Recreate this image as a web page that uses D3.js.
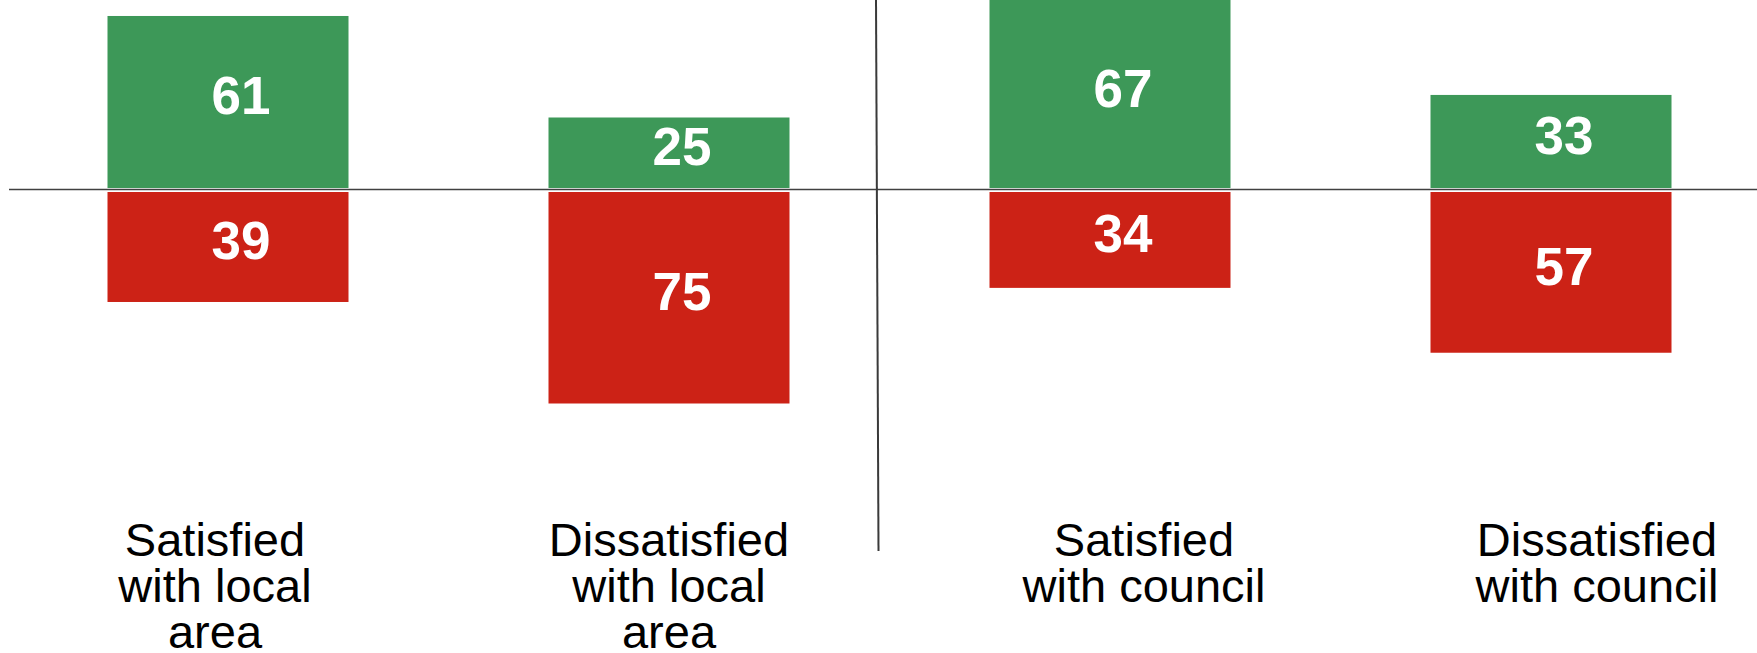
<!DOCTYPE html>
<html>
<head>
<meta charset="utf-8">
<script src="https://cdn.jsdelivr.net/npm/d3@7"></script>
<style>
  html, body { margin: 0; padding: 0; background: #ffffff; }
  svg { display: block; }
</style>
</head>
<body>
<div id="chart"></div>
<script>
// ---- data ----
const categories = [
  "Satisfied with local area",
  "Dissatisfied with local area",
  "Satisfied with council",
  "Dissatisfied with council"
];
const tickLines = [
  ["Satisfied", "with local", "area"],
  ["Dissatisfied", "with local", "area"],
  ["Satisfied", "with council"],
  ["Dissatisfied", "with council"]
];
const satisfiedValues = [61, 25, 67, 33];   // green, above the line
const dissatisfiedValues = [39, 75, 34, 57]; // red, below the line

// ---- layout / style ----
const W = 1757, H = 653;
const green = "#3d9858", red = "#cc2216";
const labelDx = [-13, 0, 34, 46];

const svg = d3.select("#chart").append("svg")
  .attr("width", W).attr("height", H);

const x = d3.scaleBand()
  .domain(categories)
  .range([7.5, 7.5 + 4 * 441])
  .paddingInner(200 / 441)
  .paddingOuter(100 / 441);

const yUp = d3.scaleLinear().domain([0, 100]).range([188, 188 - 282]);
const yDown = d3.scaleLinear().domain([0, 100]).range([192, 192 + 282]);

const rows = categories.map((c, i) => ({
  cat: c, i, up: satisfiedValues[i], down: dissatisfiedValues[i]
}));

// green bars
svg.append("g").selectAll("rect").data(rows).join("rect")
  .attr("x", d => x(d.cat))
  .attr("width", x.bandwidth())
  .attr("y", d => yUp(d.up))
  .attr("height", d => yUp(0) - yUp(d.up))
  .attr("fill", green);

// red bars
svg.append("g").selectAll("rect").data(rows).join("rect")
  .attr("x", d => x(d.cat))
  .attr("width", x.bandwidth())
  .attr("y", yDown(0))
  .attr("height", d => yDown(d.down) - yDown(0))
  .attr("fill", red);

// value labels
const valFont = "'Liberation Sans', Arial, sans-serif";
svg.append("g").selectAll("text").data(rows).join("text")
  .attr("x", d => x(d.cat) + x.bandwidth() / 2 + 13)
  .attr("y", d => (Math.max(0, yUp(d.up)) + yUp(0)) / 2 + 12.5)
  .attr("text-anchor", "middle")
  .attr("font-family", valFont)
  .attr("font-weight", "bold")
  .attr("font-size", 53)
  .attr("fill", "#ffffff")
  .text(d => d.up);

svg.append("g").selectAll("text").data(rows).join("text")
  .attr("x", d => x(d.cat) + x.bandwidth() / 2 + 13)
  .attr("y", d => (yDown(0) + yDown(d.down)) / 2 + 12.5)
  .attr("text-anchor", "middle")
  .attr("font-family", valFont)
  .attr("font-weight", "bold")
  .attr("font-size", 53)
  .attr("fill", "#ffffff")
  .text(d => d.down);

// baseline and divider
svg.append("line")
  .attr("x1", 9).attr("x2", W)
  .attr("y1", 189.5).attr("y2", 189.5)
  .attr("stroke", "#404040").attr("stroke-width", 1.3);

svg.append("line")
  .attr("x1", 876).attr("x2", 878.5)
  .attr("y1", 0).attr("y2", 551)
  .attr("stroke", "#3a3a3a").attr("stroke-width", 2);

// category labels
const lab = svg.append("g").selectAll("text").data(rows).join("text")
  .attr("text-anchor", "middle")
  .attr("font-family", valFont)
  .attr("font-size", 47)
  .attr("fill", "#000000");
lab.each(function(d) {
  const cx = x(d.cat) + x.bandwidth() / 2 + labelDx[d.i];
  d3.select(this).selectAll("tspan").data(tickLines[d.i]).join("tspan")
    .attr("x", cx)
    .attr("y", (t, j) => 556 + j * 46)
    .text(t => t);
});
</script>
</body>
</html>
